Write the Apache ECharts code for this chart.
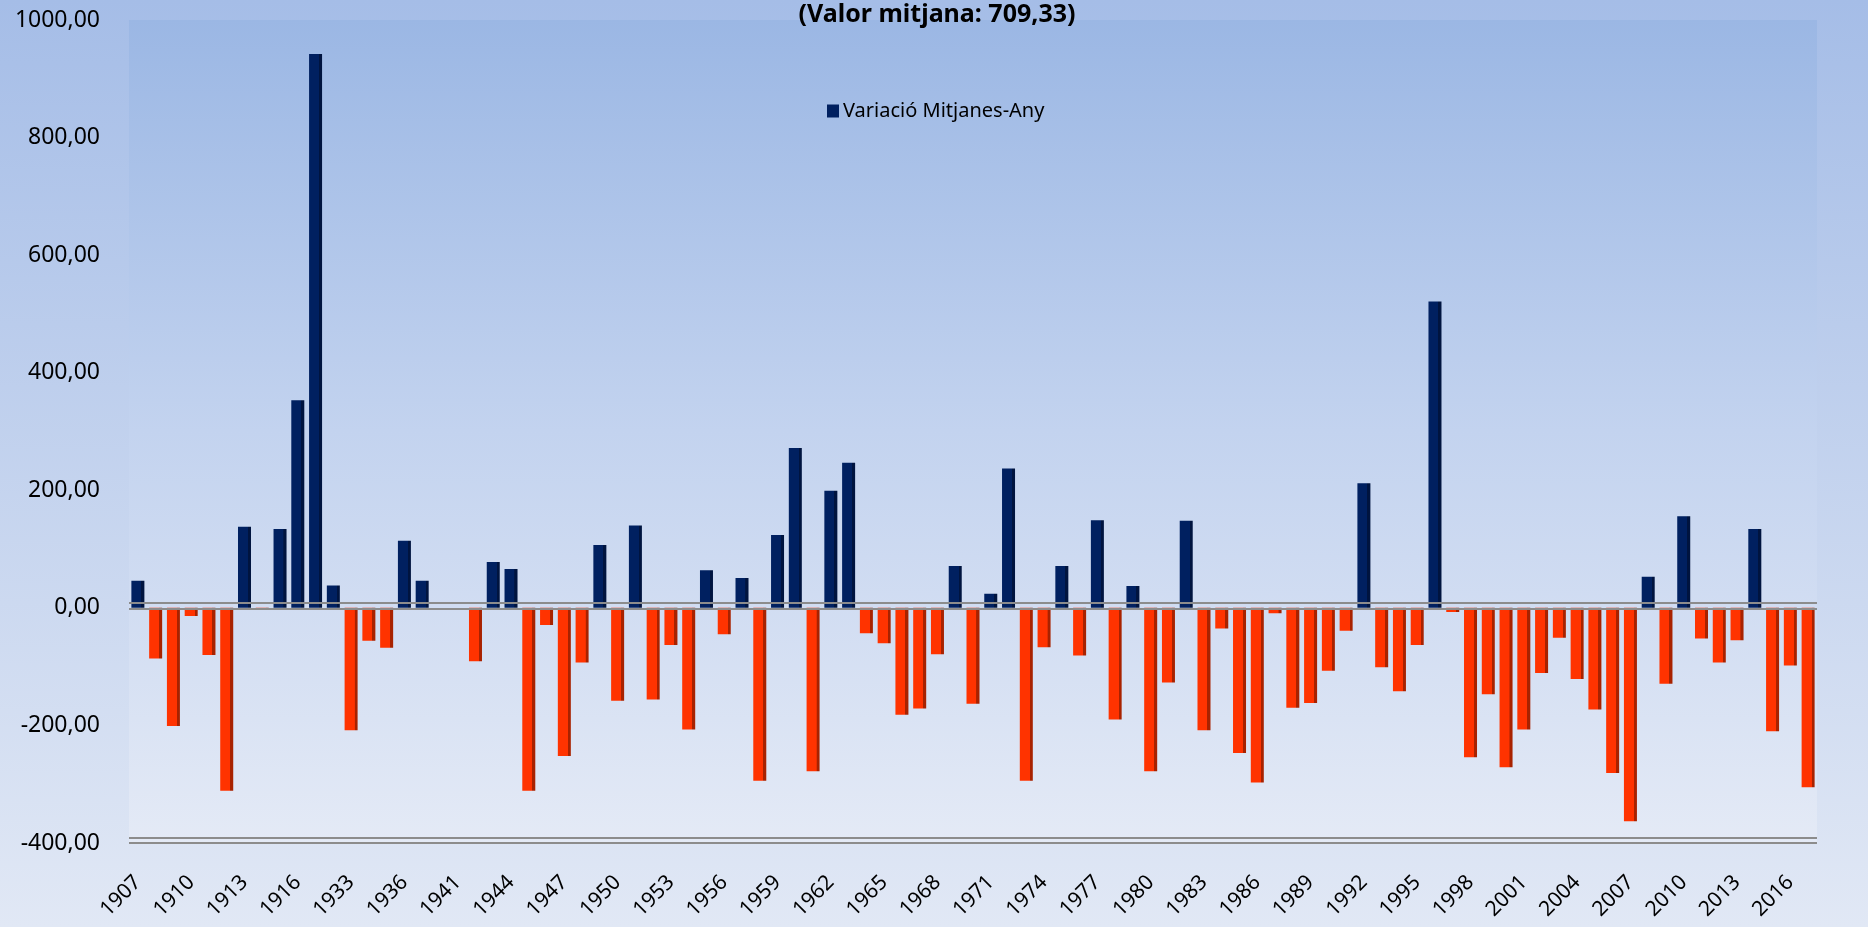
<!DOCTYPE html>
<html>
<head>
<meta charset="utf-8">
<script src="https://cdn.jsdelivr.net/npm/echarts@6/dist/echarts.min.js"></script>
<style>
    html, body { margin: 0; padding: 0; }
    #chart { width: 1868px; height: 927px; }
</style>
</head>
<body>
<div id="chart"></div>
<script>
// anys (hi ha forats a la serie: 1919-1932, 1938-1939)
let years = [
    "1907", "1908", "1909", "1910", "1911", "1912", "1913", "1914", "1915", "1916", "1917", "1918",
    "1933", "1934", "1935", "1936", "1937", "1940", "1941",
    "1942", "1943", "1944", "1945", "1946", "1947", "1948", "1949", "1950", "1951",
    "1952", "1953", "1954", "1955", "1956", "1957", "1958", "1959", "1960", "1961",
    "1962", "1963", "1964", "1965", "1966", "1967", "1968", "1969", "1970", "1971",
    "1972", "1973", "1974", "1975", "1976", "1977", "1978", "1979", "1980", "1981",
    "1982", "1983", "1984", "1985", "1986", "1987", "1988", "1989", "1990", "1991",
    "1992", "1993", "1994", "1995", "1996", "1997", "1998", "1999", "2000", "2001",
    "2002", "2003", "2004", "2005", "2006", "2007", "2008", "2009", "2010", "2011",
    "2012", "2013", "2014", "2015", "2016", "2017"
];
// variacio respecte de la mitjana (709,33)
let variacio = [
    46, -86, -201, -14, -80, -311, 138, -3, 134, 353, 942, 38,
    -208, -56, -68, 114, 46, null, null,
    -91, 78, 66, -311, -29, -252, -93, 107, -158, 140,
    -156, -63, -207, 64, -45, 51, -294, 124, 272, -278,
    199, 247, -43, -60, -182, -171, -79, 71, -163, 24,
    237, -294, -67, 71, -81, 149, -190, 37, -278, -127,
    148, -208, -35, -247, -297, -9, -170, -162, -107, -39,
    212, -101, -142, -63, 521, -7, -254, -147, -271, -207,
    -111, -51, -121, -173, -281, -363, 53, -129, 156, -52,
    -93, -55, 134, -210, -98, -305
];
let seriesName = "Variació Mitjanes-Any";
let titleText = "(Valor mitjana: 709,33)";

let chartDom = document.getElementById("chart");
let chart = echarts.init(chartDom);

// cara frontal + lateral fosca per imitar el 3D
function barGrad(front, side) {
    return new echarts.graphic.LinearGradient(0, 0, 1, 0, [
        {offset: 0, color: front},
        {offset: 0.76, color: front},
        {offset: 0.77, color: side},
        {offset: 1, color: side}
    ]);
}
let posColor = barGrad("#002060", "#00143f");
let negColor = barGrad("#ff3300", "#a82200");

let barData = variacio.map(v => v === null ? "-" : {
    value: v,
    itemStyle: {color: v >= 0 ? posColor : negColor}
});

let fontFam = "'Noto Sans', sans-serif";

let option = {
    backgroundColor: new echarts.graphic.LinearGradient(0, 0, 0, 1, [
        {offset: 0, color: "#a5bde7"},
        {offset: 1, color: "#e1e8f5"}
    ]),
    title: {
        text: titleText,
        left: 932,
        top: -3,
        textAlign: "center",
        textStyle: {fontFamily: fontFam, fontSize: 25, fontWeight: "bold", color: "#000"}
    },
    legend: {
        data: [seriesName],
        left: 822,
        top: 96,
        icon: "rect",
        itemWidth: 12,
        itemHeight: 13,
        itemGap: 6,
        textStyle: {fontFamily: fontFam, fontSize: 20, color: "#000", padding: [0, 0, 0, -1]}
    },
    grid: {
        left: 129,
        right: 51,
        top: 20,
        bottom: 84,
        show: true,
        borderWidth: 0,
        backgroundColor: new echarts.graphic.LinearGradient(0, 0, 0, 1, [
            {offset: 0, color: "#9bb7e4"},
            {offset: 0.5, color: "#c3d3ef"},
            {offset: 1, color: "#e4eaf6"}
        ])
    },
    xAxis: {
        type: "category",
        data: years,
        axisLine: {show: false},
        axisTick: {show: false},
        axisLabel: {
            interval: 2,
            rotate: 45,
            margin: 36,
            fontFamily: fontFam,
            fontSize: 21,
            color: "#000"
        }
    },
    yAxis: {
        type: "value",
        min: -400,
        max: 1000,
        interval: 200,
        splitLine: {show: false},
        axisLine: {show: false},
        axisTick: {show: false},
        axisLabel: {
            margin: 29,
            fontFamily: fontFam,
            fontSize: 23,
            color: "#000",
            formatter: v => v.toFixed(2).replace(".", ",")
        }
    },
    series: [
        {
            // linies del zero i del terra (darrere de les barres)
            type: "line",
            data: [],
            z: 1,
            silent: true,
            markLine: {
                silent: true,
                symbol: "none",
                label: {show: false},
                lineStyle: {color: "#8c8c8c", width: 2, type: "solid"},
                data: [
                    {yAxis: 8},
                    {yAxis: -2},
                    {yAxis: -391},
                    {yAxis: -400}
                ]
            }
        },
        {
            name: seriesName,
            type: "bar",
            z: 3,
            barWidth: 13,
            itemStyle: {color: "#002060"},
            data: barData
        }
    ]
};
option && chart.setOption(option);
</script>
</body>
</html>
